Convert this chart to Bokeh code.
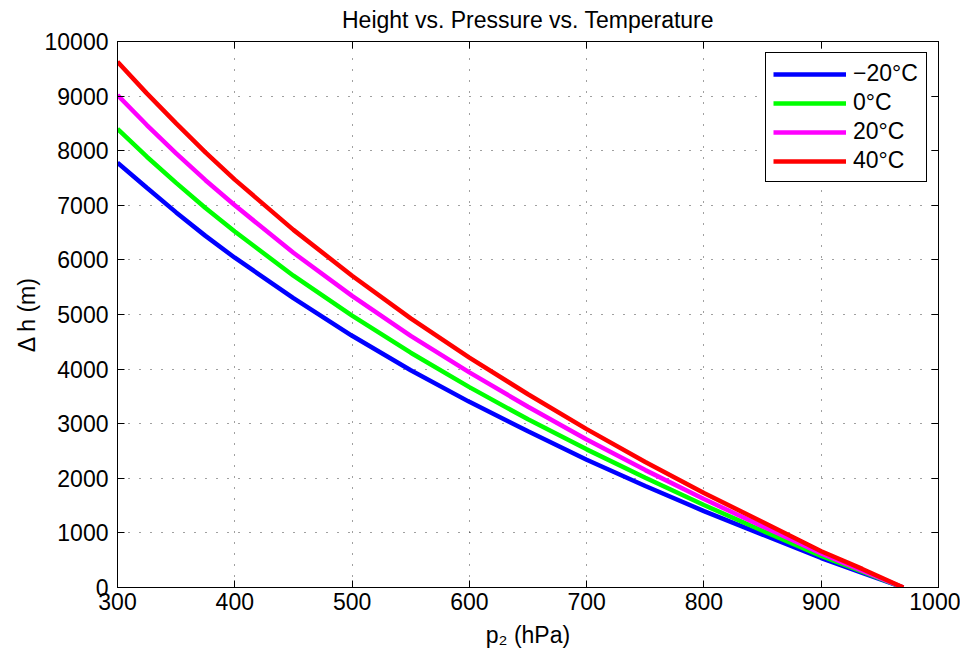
from bokeh.plotting import figure
from bokeh.models import (Range1d, LinearAxis, SingleIntervalTicker, Legend, LegendItem,
                          CustomLabelingPolicy)
from bokeh.embed import file_html
from bokeh.resources import INLINE

# ---- data ----
p_hpa = [300, 325, 350, 375, 400, 450, 500, 550, 600, 650, 700, 750, 800, 850, 900, 935, 970]
dh_m20 = [7780, 7320, 6870, 6440, 6040, 5300, 4610, 3980, 3400, 2860, 2340, 1860, 1400, 970, 540, 270, 0]
dh_0 = [8400, 7890, 7410, 6950, 6520, 5710, 4980, 4300, 3670, 3080, 2530, 2010, 1510, 1040, 580, 290, 0]
dh_20 = [9020, 8470, 7950, 7460, 7000, 6130, 5340, 4610, 3940, 3310, 2710, 2150, 1620, 1120, 625, 310, 0]
dh_40 = [9630, 9050, 8500, 7970, 7470, 6550, 5710, 4930, 4210, 3540, 2900, 2300, 1730, 1200, 665, 340, 0]

series_labels = ["\u221220\u00b0C", "0\u00b0C", "20\u00b0C", "40\u00b0C"]
series_values = [dh_m20, dh_0, dh_20, dh_40]
series_colors = ["#0000ff", "#00ff00", "#ff00ff", "#ff0000"]

title_text = "Height vs. Pressure vs. Temperature"
x_label = "p\u2082 (hPa)"
y_label = "\u0394 h (m)"

FONT = "Liberation Sans"
FS = "23px"

p = figure(frame_width=821, frame_height=546,
           x_range=Range1d(300, 1000), y_range=Range1d(0, 10000),
           output_backend="svg", toolbar_location=None,
           min_border_left=117, min_border_right=22,
           min_border_top=41, min_border_bottom=64,
           background_fill_color="white", border_fill_color="white")

p.title.text = title_text
p.title.align = "center"
p.title.vertical_align = "top"
p.title.text_font = FONT
p.title.text_font_size = FS
p.title.text_font_style = "normal"
p.title.text_color = "black"
p.title.standoff = 6

p.outline_line_color = "black"
p.outline_line_width = 1
p.outline_line_alpha = 1

xt = SingleIntervalTicker(interval=100)
yt = SingleIntervalTicker(interval=1000)

p.xaxis.ticker = xt
p.yaxis.ticker = yt
for ax in (p.xaxis, p.yaxis):
    ax.axis_line_color = "black"
    ax.major_tick_in = 7
    ax.major_tick_out = 0
    ax.major_tick_line_color = "black"
    ax.minor_tick_line_color = None
    ax.major_label_text_font = FONT
    ax.major_label_text_font_size = FS
    ax.major_label_text_color = "black"
    ax.axis_label_text_font = FONT
    ax.axis_label_text_font_size = FS
    ax.axis_label_text_font_style = "normal"
    ax.axis_label_text_color = "black"

p.xaxis.axis_label = x_label
p.yaxis.axis_label = y_label
p.xaxis.major_label_standoff = 1
p.yaxis.major_label_standoff = 5
p.xaxis.axis_label_standoff = 9
p.yaxis.axis_label_standoff = 2

# mirrored axes (ticks only, no labels) on top and right
no_labels = CustomLabelingPolicy(code="""
for (const i of indices) indices.unset(i)
return indices
""")
for loc, tk in (("above", xt), ("right", yt)):
    a = LinearAxis(ticker=tk, major_tick_in=7, major_tick_out=0,
                   minor_tick_line_color=None, axis_line_color="black",
                   major_label_policy=no_labels, major_label_standoff=0,
                   major_label_text_font_size="0px")
    p.add_layout(a, loc)

for g in (p.xgrid, p.ygrid):
    g.grid_line_color = "black"
    g.grid_line_alpha = 0.75
    g.grid_line_dash = "1 10"
    g.grid_line_width = 1
p.xgrid.ticker = xt
p.ygrid.ticker = yt

items = []
for lab, vals, col in zip(series_labels, series_values, series_colors):
    r = p.line(p_hpa, vals, line_color=col, line_width=4.5)
    items.append(LegendItem(label=lab, renderers=[r]))

legend = Legend(items=items, location="top_right")
legend.margin = 11
legend.padding = 7
legend.spacing = 2
legend.glyph_width = 73
legend.glyph_height = 20
legend.label_height = 20
legend.label_width = 66
legend.label_standoff = 7
legend.label_text_font = FONT
legend.label_text_font_size = FS
legend.label_text_color = "black"
legend.border_line_color = "black"
legend.border_line_width = 1
legend.border_line_alpha = 1
legend.background_fill_color = "white"
legend.background_fill_alpha = 1
p.add_layout(legend)

open("out.html", "w").write(file_html(p, INLINE))
